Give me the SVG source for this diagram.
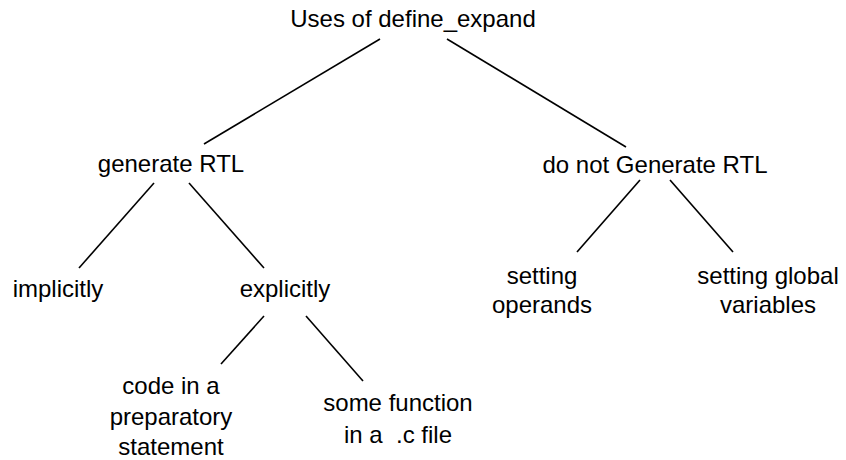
<svg xmlns="http://www.w3.org/2000/svg" width="846" height="460" viewBox="0 0 846 460">
<style>
text{font-family:"Liberation Sans",Arial,sans-serif;font-size:24px;fill:#000;text-anchor:middle}
.e line{stroke:#000;stroke-width:1.6;stroke-linecap:butt}
</style>
<rect width="846" height="460" fill="#fff"/>
<g class="e" id="edges">
<line x1="380" y1="39" x2="204" y2="144"/>
<line x1="447" y1="39" x2="626" y2="147"/>
<line x1="154" y1="183" x2="79" y2="268"/>
<line x1="189" y1="183" x2="264" y2="268"/>
<line x1="264" y1="316" x2="221" y2="364"/>
<line x1="306" y1="316" x2="363" y2="381"/>
<line x1="640" y1="180" x2="577" y2="252"/>
<line x1="670" y1="180" x2="733" y2="252"/>
</g>
<g id="root"><text x="413" y="27">Uses of define_expand</text></g>
<g id="gen"><text x="171" y="172">generate RTL</text></g>
<g id="nogen"><text x="655" y="173">do not Generate RTL</text></g>
<g id="impl"><text x="58" y="297">implicitly</text></g>
<g id="expl"><text x="285" y="297">explicitly</text></g>
<g id="code"><text x="171" y="394">code in a</text><text x="171" y="425">preparatory</text><text x="171" y="455">statement</text></g>
<g id="func"><text x="398" y="411">some function</text><text x="398" y="443">in a&#160; .c file</text></g>
<g id="oper"><text x="542" y="284">setting</text><text x="542" y="313">operands</text></g>
<g id="glob"><text x="768" y="284">setting global</text><text x="768" y="313">variables</text></g>
</svg>
